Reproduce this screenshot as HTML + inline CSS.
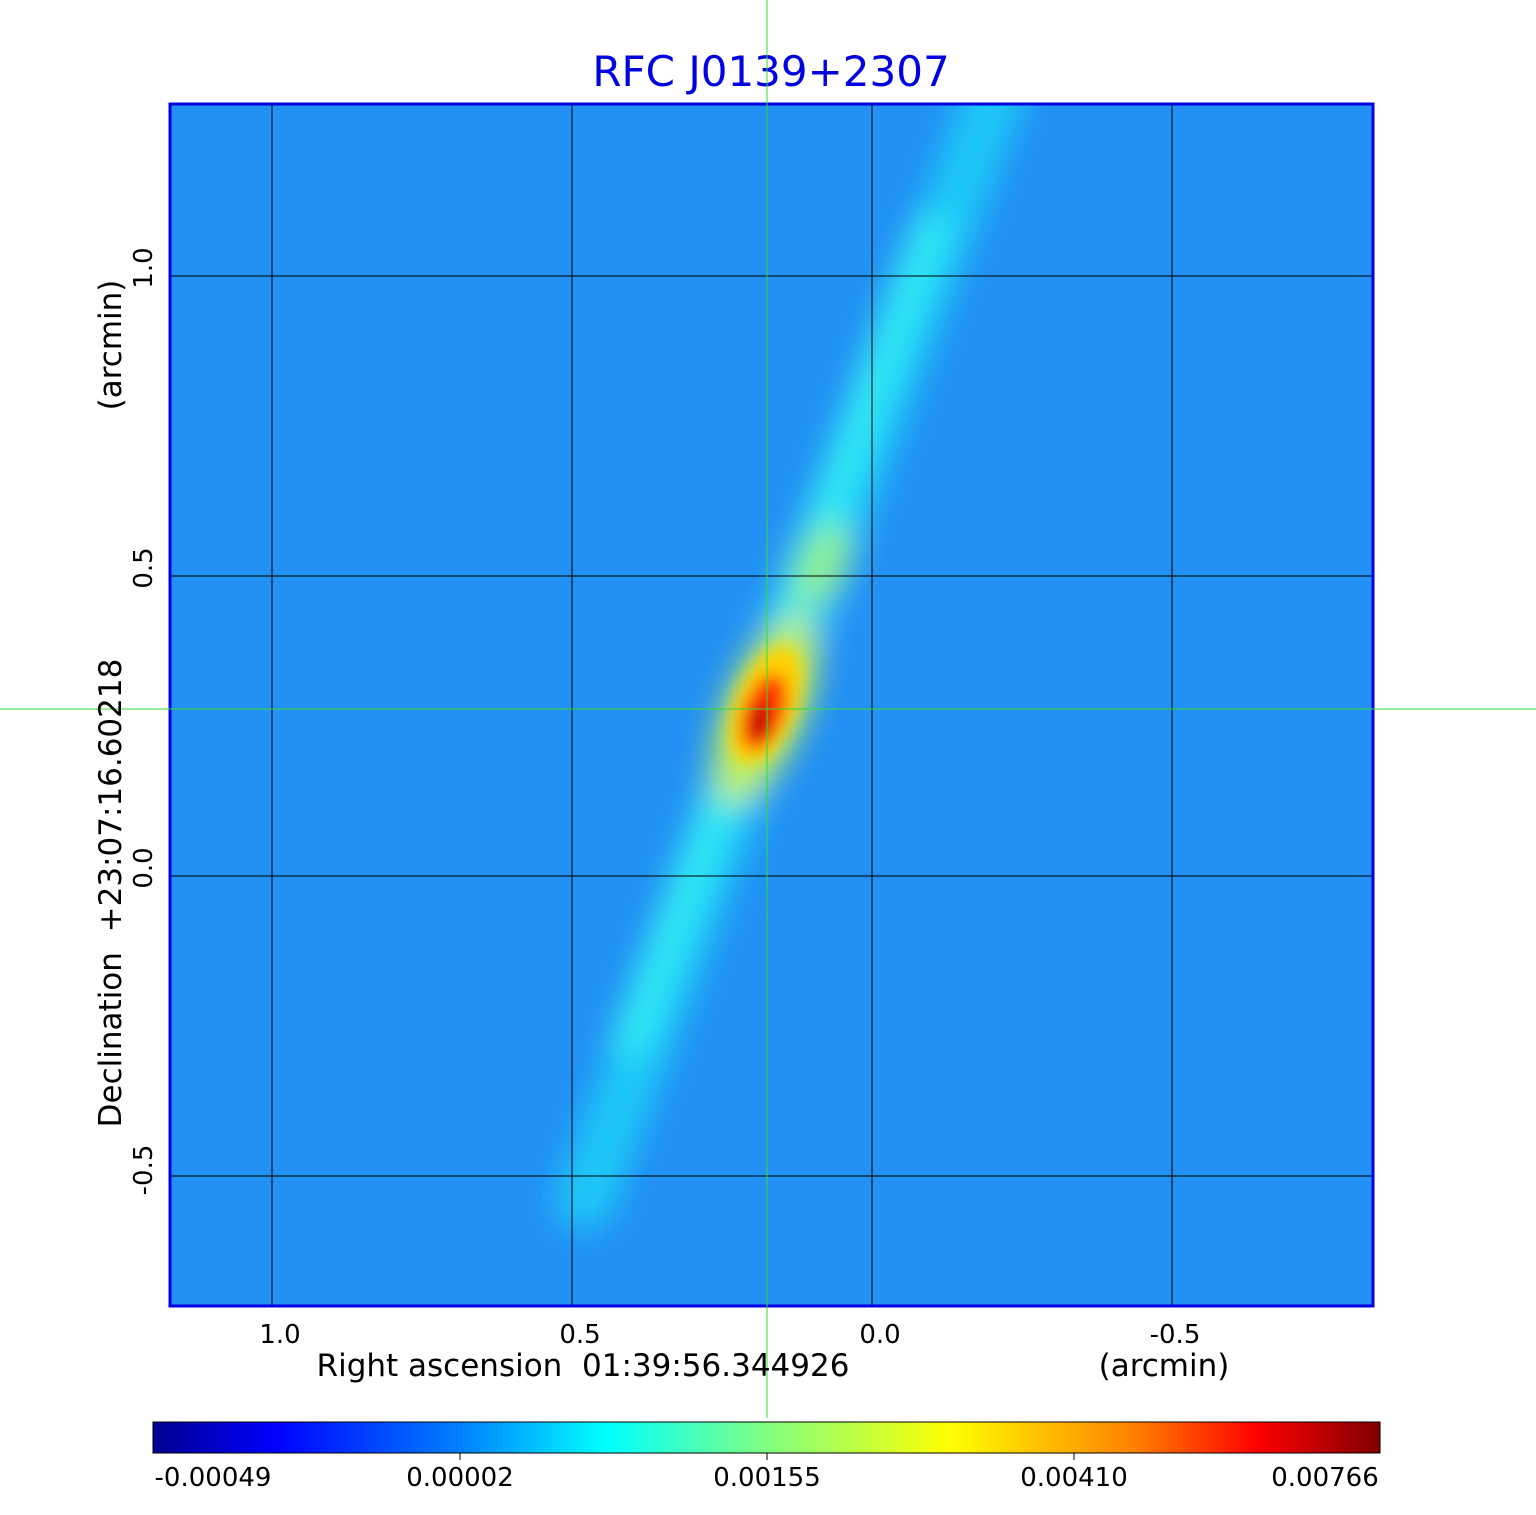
<!DOCTYPE html>
<html><head><style>
body{margin:0;background:#fff;width:1536px;height:1511px;overflow:hidden;font-family:"DejaVu Sans","Liberation Sans",sans-serif}
text{white-space:pre}
</style></head><body>
<svg width="1536" height="1511" xmlns="http://www.w3.org/2000/svg" font-family="DejaVu Sans, Liberation Sans, sans-serif">
<defs>
<filter id="b1" x="-50%" y="-50%" width="200%" height="200%"><feGaussianBlur stdDeviation="16"/></filter>
<filter id="b2" x="-50%" y="-50%" width="200%" height="200%"><feGaussianBlur stdDeviation="8"/></filter>
<clipPath id="c"><rect x="170" y="104" width="1203" height="1202"/></clipPath>
<linearGradient id="cb" x1="0" x2="1">
<stop offset="0" stop-color="#00008f"/><stop offset="0.1" stop-color="#0000ff"/><stop offset="0.25" stop-color="#0080ff"/><stop offset="0.37" stop-color="#00ffff"/><stop offset="0.5" stop-color="#80ff80"/><stop offset="0.65" stop-color="#ffff00"/><stop offset="0.8" stop-color="#ff8000"/><stop offset="0.9" stop-color="#ff0000"/><stop offset="1" stop-color="#800000"/>
</linearGradient>
</defs>
<text x="771" y="86" font-size="42" fill="#0000e0" text-anchor="middle">RFC J0139+2307</text>
<g clip-path="url(#c)">
<rect x="170" y="104" width="1203" height="1202" fill="#2290f4"/>
<g filter="url(#b1)">
<line x1="585" y1="1200" x2="1000" y2="80" stroke="#1cc8f8" stroke-width="60" stroke-linecap="round"/>
<line x1="630" y1="1040" x2="930" y2="230" stroke="#30ecf4" stroke-width="36" stroke-linecap="round"/>
<ellipse cx="822" cy="565" rx="24" ry="44" fill="#90f090" transform="rotate(25 822 565)"/>
<ellipse cx="765" cy="710" rx="40" ry="100" fill="#c0f060" transform="rotate(22 765 710)"/>
</g>
<g filter="url(#b2)">
<ellipse cx="766" cy="705" rx="30" ry="62" fill="#ffd000" transform="rotate(22 766 705)"/>
<ellipse cx="764" cy="712" rx="20" ry="40" fill="#ff3000" transform="rotate(20 764 712)"/>
<ellipse cx="760" cy="722" rx="10" ry="20" fill="#c00000"/>
</g>
</g>
<g stroke="#000" stroke-width="1">
<line x1="272" y1="104" x2="272" y2="1306"/><line x1="572" y1="104" x2="572" y2="1306"/><line x1="872" y1="104" x2="872" y2="1306"/><line x1="1172" y1="104" x2="1172" y2="1306"/>
<line x1="170" y1="276" x2="1373" y2="276"/><line x1="170" y1="576" x2="1373" y2="576"/><line x1="170" y1="876" x2="1373" y2="876"/><line x1="170" y1="1176" x2="1373" y2="1176"/>
</g>
<rect x="170" y="104" width="1203" height="1202" fill="none" stroke="#0000e0" stroke-width="3"/>
<line x1="767" y1="0" x2="767" y2="1418" stroke="#33dd33" stroke-width="1"/>
<line x1="0" y1="709" x2="1536" y2="709" stroke="#33dd33" stroke-width="1"/>
<g font-size="26" fill="#000" text-anchor="middle">
<text x="280" y="1343">1.0</text><text x="580" y="1343">0.5</text><text x="880" y="1343">0.0</text><text x="1175" y="1343">-0.5</text>
<text x="583" y="1376" font-size="31">Right ascension  01:39:56.344926</text>
<text x="1164" y="1376" font-size="31">(arcmin)</text>
<text transform="translate(152,268) rotate(-90)">1.0</text>
<text transform="translate(152,568) rotate(-90)">0.5</text>
<text transform="translate(152,868) rotate(-90)">0.0</text>
<text transform="translate(152,1170) rotate(-90)">-0.5</text>
<text transform="translate(121,893) rotate(-90)" font-size="31">Declination  +23:07:16.60218</text>
<text transform="translate(121,345) rotate(-90)" font-size="31">(arcmin)</text>
</g>
<rect x="153" y="1422" width="1227" height="31" fill="url(#cb)" stroke="#000" stroke-width="1"/>
<g stroke="#000"><line x1="460" y1="1453" x2="460" y2="1460"/><line x1="767" y1="1453" x2="767" y2="1460"/><line x1="1074" y1="1453" x2="1074" y2="1460"/></g>
<g font-size="26" fill="#000" text-anchor="middle">
<text x="213" y="1486">-0.00049</text><text x="460" y="1486">0.00002</text><text x="767" y="1486">0.00155</text><text x="1074" y="1486">0.00410</text><text x="1325" y="1486">0.00766</text>
</g>
</svg>
</body></html>
